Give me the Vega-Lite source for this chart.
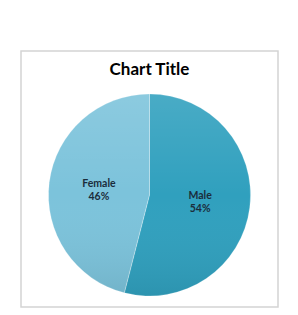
{
  "$schema": "https://vega.github.io/schema/vega-lite/v6.json",
  "width": 257,
  "height": 256,
  "autosize": "none",
  "padding": {"left": 21, "top": 51, "right": 20, "bottom": 8},
  "background": "white",
  "view": {"stroke": "#d4d4d4", "strokeWidth": 1.5, "fill": "white"},
  "layer": [
    {
      "data": {"values": [
        {"category": "Male", "value": 54, "order": 1},
        {"category": "Female", "value": 46, "order": 2}
      ]},
      "transform": [{"calculate": "datum.category + '\\n' + datum.value + '%'", "as": "label"}],
      "encoding": {
        "theta": {"field": "value", "type": "quantitative", "stack": true},
        "order": {"field": "order", "type": "quantitative"}
      },
      "layer": [
        {
          "mark": {"type": "arc", "outerRadius": 101, "yOffset": 16},
          "encoding": {
            "color": {"field": "category", "type": "nominal", "scale": {"domain": ["Male", "Female"], "range": ["#30a0be", "#7cc3db"]}, "legend": null}
          }
        },
        {
          "mark": {"type": "arc", "outerRadius": 101, "yOffset": 16, "stroke": "#ffffff", "strokeOpacity": 0.35, "strokeWidth": 0.6,
            "color": {"gradient": "linear", "x1": 0, "y1": 0, "x2": 0, "y2": 1, "stops": [
              {"offset": 0, "color": "rgba(255,255,255,0.12)"},
              {"offset": 0.5, "color": "rgba(255,255,255,0)"},
              {"offset": 1, "color": "rgba(0,0,0,0.08)"}
            ]}}
        },
        {
          "mark": {"type": "text", "radius": 51, "yOffset": 11, "font": "Lato", "fontWeight": "bold", "fontSize": 10.5, "color": "#1b2d3c", "lineBreak": "\n", "lineHeight": 13},
          "encoding": {"text": {"field": "label"}}
        }
      ]
    },
    {
      "data": {"values": [{"title": "Chart Title"}]},
      "mark": {"type": "text", "font": "Lato", "fontWeight": "bold", "fontSize": 17, "color": "#000000", "align": "center", "baseline": "alphabetic", "yOffset": -104},
      "encoding": {"text": {"field": "title"}}
    }
  ]
}
